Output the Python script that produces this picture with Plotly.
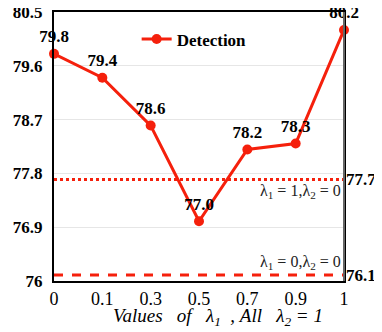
import plotly.graph_objects as go

lambda1 = ["0", "0.1", "0.3", "0.5", "0.7", "0.9", "1"]
detection = [79.8, 79.4, 78.6, 77.0, 78.2, 78.3, 80.2]
baseline_l1_1 = 77.7   # lambda1 = 1, lambda2 = 0
baseline_l1_0 = 76.1   # lambda1 = 0, lambda2 = 0
y_ticks = [76, 76.9, 77.8, 78.7, 79.6, 80.5]
y_ticktext = ["76", "76.9", "77.8", "78.7", "79.6", "80.5"]

RED = "#f5200c"
SERIF = "Liberation Serif, Times New Roman, serif"

fig = go.Figure()

fig.add_trace(go.Scatter(
    x=[lambda1[0], lambda1[-1]], y=[baseline_l1_1, baseline_l1_1],
    mode="lines", line=dict(color=RED, width=3, dash="dot"),
    showlegend=False, hoverinfo="skip"
))
fig.add_trace(go.Scatter(
    x=[lambda1[0], lambda1[-1]], y=[baseline_l1_0, baseline_l1_0],
    mode="lines", line=dict(color=RED, width=3, dash="dash"),
    showlegend=False, hoverinfo="skip"
))

fig.add_trace(go.Scatter(
    x=lambda1, y=detection,
    mode="lines+markers+text",
    name="<b>Detection</b>",
    line=dict(color=RED, width=3),
    marker=dict(color=RED, size=10),
    text=[f"<b>{v:.1f}</b>" for v in detection],
    textposition="top center",
    textfont=dict(family=SERIF, size=17, color="black"),
    cliponaxis=False
))

fig.add_annotation(x=1, xref="paper", y=baseline_l1_1, yref="y", xanchor="left",
                   text=f"<b>{baseline_l1_1}</b>", showarrow=False, xshift=0,
                   font=dict(family=SERIF, size=17, color="black"))
fig.add_annotation(x=1, xref="paper", y=baseline_l1_0, yref="y", xanchor="left",
                   text=f"<b>{baseline_l1_0}</b>", showarrow=False, xshift=0,
                   font=dict(family=SERIF, size=17, color="black"))
fig.add_annotation(x=1, xref="paper", y=baseline_l1_1, yref="y", xanchor="right", yanchor="top",
                   text="λ<sub>1</sub> = 1,λ<sub>2</sub> = 0", showarrow=False, xshift=-1, yshift=-1,
                   font=dict(family=SERIF, size=16, color="#222"))
fig.add_annotation(x=1, xref="paper", y=baseline_l1_0, yref="y", xanchor="right", yanchor="bottom",
                   text="λ<sub>1</sub> = 0,λ<sub>2</sub> = 0", showarrow=False, xshift=-1, yshift=1,
                   font=dict(family=SERIF, size=16, color="#222"))

# x title sits a bit right of centre in the original
fig.add_annotation(x=0.566, xref="paper", y=-0.132, yref="paper", xanchor="center", yanchor="middle",
                   text="<i>Values   of   λ<sub>1</sub>  , All   λ<sub>2</sub> = 1</i>",
                   showarrow=False, font=dict(family=SERIF, size=19, color="black"))

# right border drawn in grey like the original
fig.add_shape(type="line", xref="paper", yref="paper", x0=1, x1=1, y0=0, y1=1,
              line=dict(color="#666", width=2))

# page body adds an 8px margin, so the figure is 8px smaller than the window
fig.update_layout(
    width=374, height=324,
    margin=dict(l=46, r=38, t=4, b=51, autoexpand=False),
    plot_bgcolor="white", paper_bgcolor="white",
    font=dict(family=SERIF, size=16, color="black"),
    legend=dict(x=0.285, y=0.965, xanchor="left", yanchor="top",
                bgcolor="rgba(0,0,0,0)", font=dict(family=SERIF, size=17)),
    xaxis=dict(
        type="category", categoryorder="array", categoryarray=lambda1,
        range=[0, 6], automargin=False,
        showline=True, linecolor="black", linewidth=2, mirror=True,
        showgrid=False, ticks="", ticklen=0,
        tickfont=dict(family=SERIF, size=18),
    ),
    yaxis=dict(
        range=[76, 80.5], tickvals=y_ticks, automargin=False,
        ticktext=[f"<b>{t}</b>" for t in y_ticktext],
        showline=True, linecolor="black", linewidth=2, mirror=True,
        showgrid=True, gridcolor="#e6e6e6", gridwidth=1, zeroline=False,
        tickfont=dict(family=SERIF, size=17), ticks="", ticklabelstandoff=6,
        ticklabeloverflow="allow"
    ),
)

fig.write_html("out.html", config={"displayModeBar": False})
